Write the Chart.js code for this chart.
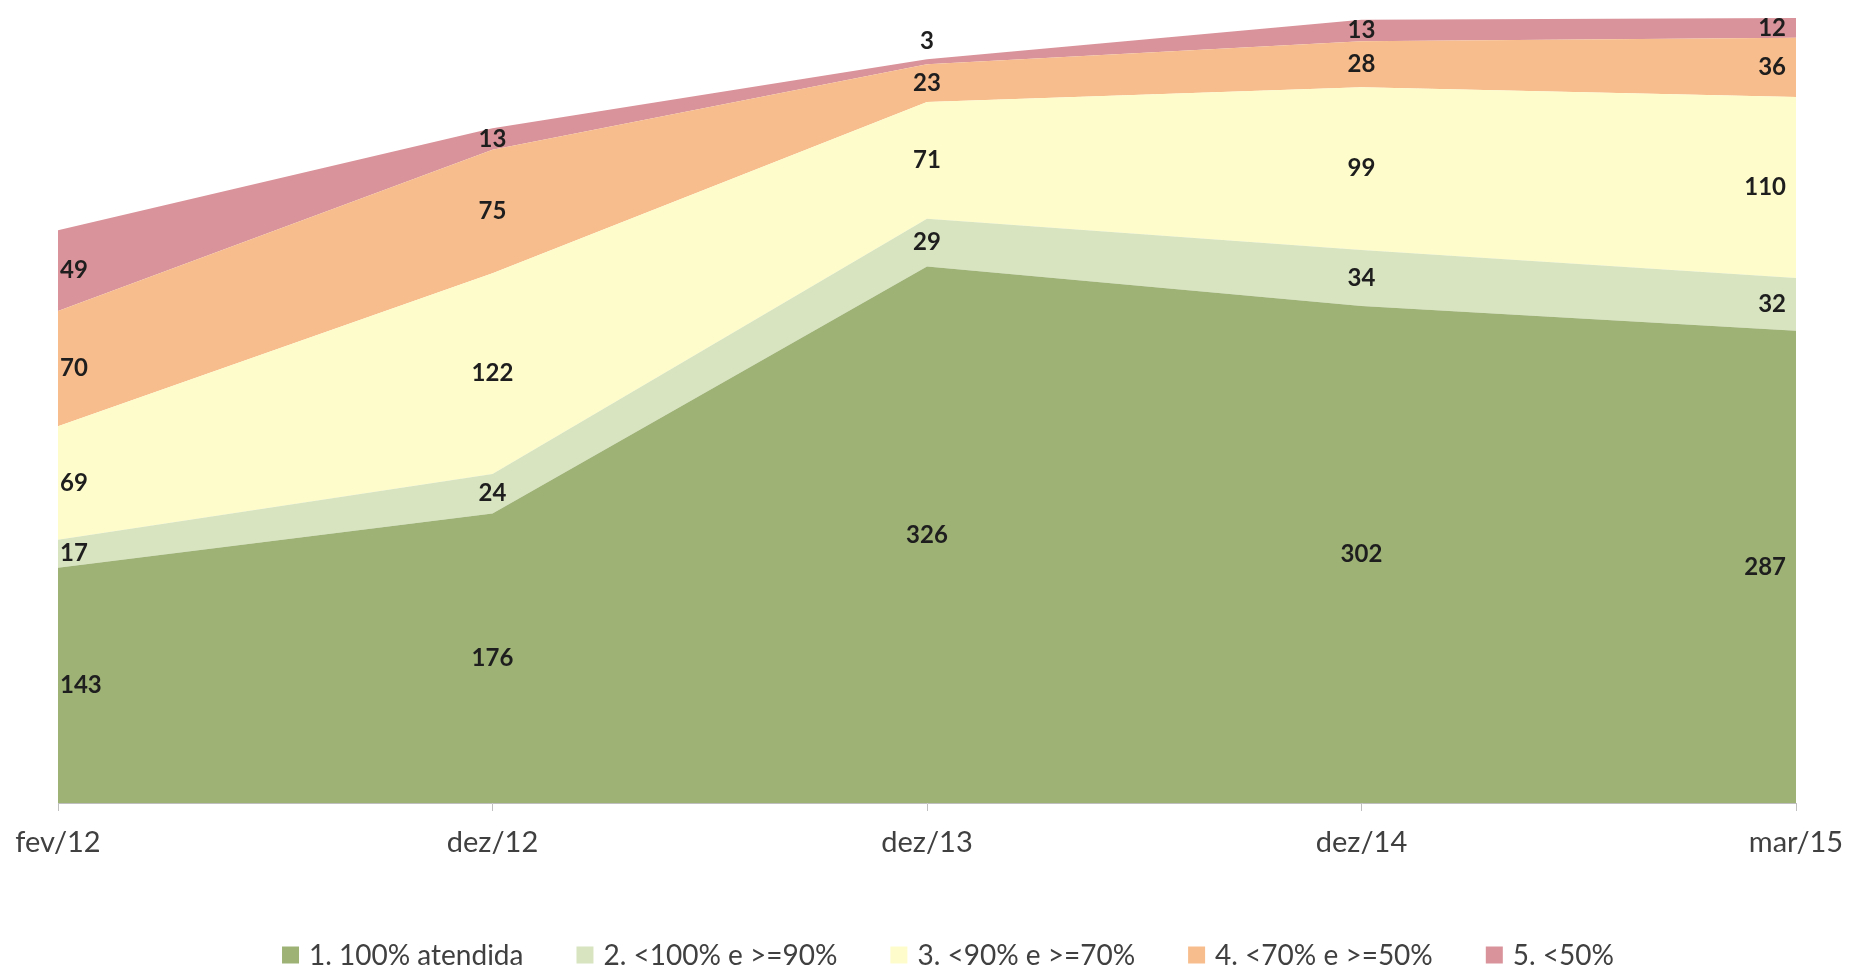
<!DOCTYPE html>
<html>
<head>
<meta charset="utf-8">
<script src="https://cdn.jsdelivr.net/npm/chart.js"></script>
<style>
  html, body { margin: 0; padding: 0; background: #fff; }
  #wrap { width: 1849px; height: 970px; position: relative; }
</style>
</head>
<body>
<div id="wrap"><canvas id="areaChart"></canvas></div>
<script>
const labels = ['fev/12', 'dez/12', 'dez/13', 'dez/14', 'mar/15'];
const seriesNames = ['1. 100% atendida', '2. <100% e >=90%', '3. <90% e >=70%', '4. <70% e >=50%', '5. <50%'];
const atendida100 = [143, 176, 326, 302, 287];
const entre90e100 = [17, 24, 29, 34, 32];
const entre70e90 = [69, 122, 71, 99, 110];
const entre50e70 = [70, 75, 23, 28, 36];
const abaixo50 = [49, 13, 3, 13, 12];
const colors = ['#9eb276', '#d8e4bf', '#fefccb', '#f8bd8c', '#d9939a'];

const allSeries = [atendida100, entre90e100, entre70e90, entre50e70, abaixo50];

// labels in the middle of each band
const bandLabels = {
  id: 'bandLabels',
  afterDatasetsDraw(chart) {
    const ctx = chart.ctx;
    const y = chart.scales.y;
    const area = chart.chartArea;
    ctx.save();
    ctx.font = 'bold 24px Lato';
    ctx.fillStyle = '#1e1e1e';
    ctx.textBaseline = 'middle';
    const n = labels.length;
    for (let i = 0; i < n; i++) {
      let base = 0;
      chart.data.datasets.forEach((ds, d) => {
        const v = ds.data[i];
        const pt = chart.getDatasetMeta(d).data[i];
        let py = y.getPixelForValue(base + v / 2);
        const h = y.getPixelForValue(base) - y.getPixelForValue(base + v);
        if (h < 12) py = y.getPixelForValue(base + v) - 18;
        let px = pt.x;
        if (i === 0) { ctx.textAlign = 'left'; px = area.left + 2; }
        else if (i === n - 1) { ctx.textAlign = 'right'; px = area.right - 10; }
        else ctx.textAlign = 'center';
        ctx.fillText(String(v), px, py);
        base += v;
      });
    }
    ctx.restore();
  }
};

// legend drawn by hand, so the spacing can match
const bottomLegend = {
  id: 'bottomLegend',
  afterDraw(chart) {
    const ctx = chart.ctx;
    const box = 17, gapText = 10, gapItem = 53;
    ctx.save();
    ctx.font = '28px Lato';
    ctx.textBaseline = 'middle';
    ctx.textAlign = 'left';
    const items = chart.data.datasets.map(ds => ({ text: ds.label, color: ds.backgroundColor, w: ctx.measureText(ds.label).width }));
    let total = 0;
    items.forEach((it, k) => { total += box + gapText + it.w + (k < items.length - 1 ? gapItem : 0); });
    let x = 948 - total / 2;
    const yc = 955;
    items.forEach(it => {
      ctx.fillStyle = it.color;
      ctx.fillRect(x, yc - box / 2, box, box);
      ctx.fillStyle = '#404040';
      ctx.fillText(it.text, x + box + gapText, yc + 1);
      x += box + gapText + it.w + gapItem;
    });
    ctx.restore();
  }
};

new Chart(document.getElementById('areaChart'), {
  type: 'line',
  data: {
    labels: labels,
    datasets: allSeries.map((s, k) => ({
      label: seriesNames[k],
      data: s,
      backgroundColor: colors[k],
      borderColor: colors[k],
      borderWidth: 0,
      pointRadius: 0,
      fill: k === 0 ? 'origin' : '-1',
      tension: 0
    }))
  },
  options: {
    responsive: true,
    maintainAspectRatio: false,
    animation: false,
    layout: {
      padding: { top: 0, left: 58, right: 53, bottom: 0 }
    },
    plugins: {
      legend: { display: false },
      tooltip: { enabled: false }
    },
    scales: {
      x: {
        offset: false,
        grid: { display: true, drawOnChartArea: false, color: '#bfbfbf', tickLength: 8 },
        border: { display: true, color: '#bfbfbf' },
        ticks: {
          font: { family: 'Lato', size: 29 },
          color: '#404040',
          padding: 14,
          maxRotation: 0,
          autoSkip: false
        },
        afterFit(scale) {
          scale.height = 167;
          scale.paddingLeft = 0;
          scale.paddingRight = 0;
        }
      },
      y: {
        display: false,
        stacked: true,
        min: 0,
        max: 488
      }
    }
  },
  plugins: [bandLabels, bottomLegend]
});
</script>
</body>
</html>
